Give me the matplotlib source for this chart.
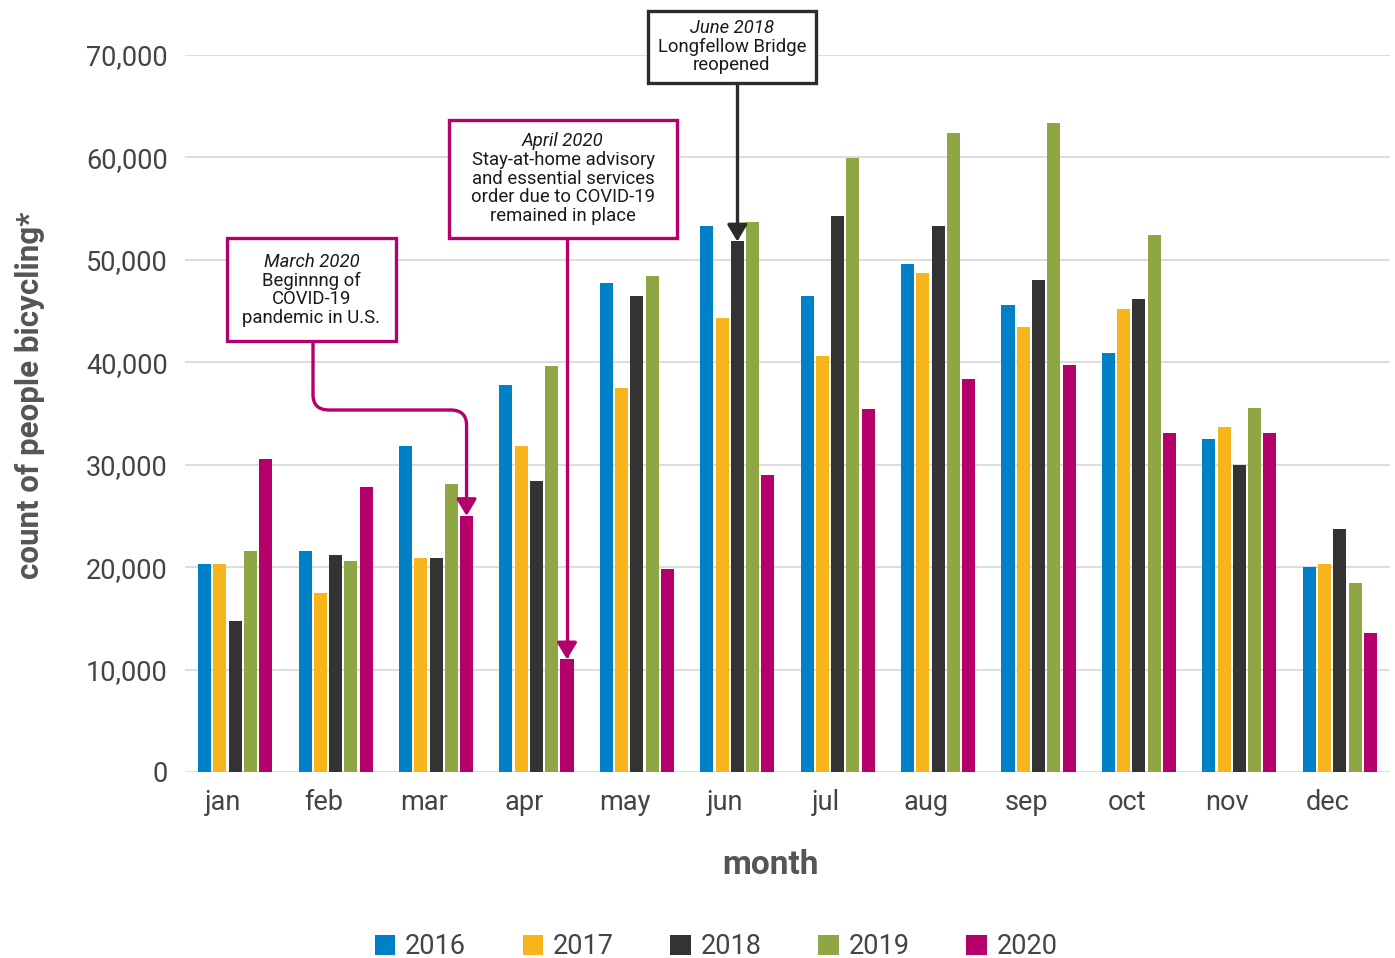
import matplotlib
matplotlib.use("Agg")
import matplotlib.pyplot as plt
import numpy as np
from matplotlib.patches import Rectangle, FancyArrowPatch
from matplotlib.path import Path
import matplotlib.transforms as mtransforms

months = ["jan", "feb", "mar", "apr", "may", "jun", "jul", "aug", "sep", "oct", "nov", "dec"]
years = ["2016", "2017", "2018", "2019", "2020"]
v2016 = [20300, 21550, 31800, 37750, 47750, 53300, 46450, 49600, 45550, 40900, 32500, 20000]
v2017 = [20300, 17450, 20900, 31800, 37450, 44300, 40600, 48700, 43400, 45200, 33700, 20300]
v2018 = [14750, 21200, 20900, 28400, 46450, 51800, 54300, 53300, 48000, 46150, 29950, 23700]
v2019 = [21550, 20600, 28100, 39650, 48400, 53700, 59950, 62400, 63350, 52400, 35550, 18450]
v2020 = [30550, 27800, 25000, 11000, 19800, 29000, 35450, 38350, 39750, 33100, 33100, 13550]
colors = ["#0080C6", "#F7B51B", "#333333", "#8FA644", "#B5006B"]
series = [v2016, v2017, v2018, v2019, v2020]
yticks = [0, 10000, 20000, 30000, 40000, 50000, 60000, 70000]

FONT = "Roboto"
plt.rcParams["font.family"] = [FONT, "DejaVu Sans"]

W, H = 1395, 958
fig = plt.figure(figsize=(W / 100, H / 100), dpi=100)
ax = fig.add_axes([185 / W, 1 - 772 / H, 1205 / W, 717 / H])

x = np.arange(len(months))
stride = 0.152
width = 0.13
for k, (vals, c, yr) in enumerate(zip(series, colors, years)):
    ax.bar(x + (k - 2) * stride, vals, width=width, color=c, label=yr, zorder=3)

ax.set_xlim(-0.5, 11.5)
ax.set_ylim(0, 70000)
ax.set_yticks(yticks)
ax.set_yticklabels([f"{v:,}" for v in yticks])
ax.set_xticks(x)
ax.set_xticklabels(months)
ax.grid(axis="y", color="#dddddd", lw=1.4, zorder=0)
for s in ax.spines.values():
    s.set_visible(False)
ax.tick_params(axis="both", length=0, labelsize=19.5, labelcolor="#444444")
ax.tick_params(axis="y", pad=12.5)
ax.tick_params(axis="x", pad=12)
off = mtransforms.ScaledTranslation(-12 / 100, 0, fig.dpi_scale_trans)
for lab in ax.get_xticklabels():
    lab.set_transform(lab.get_transform() + off)

fig.text(30 / W, 1 - 395 / H, "count of people bicycling*", rotation=90,
         ha="center", va="center", fontsize=22.5, fontweight="bold", color="#555555")
fig.text(770 / W, 1 - 865 / H, "month", ha="center", va="center",
         fontsize=24, fontweight="bold", color="#555555")

# annotations
def px2x(px):
    return (px - 185) / 1205 * 12 - 0.5

def py2y(py):
    return (772 - py) / 717 * 70000

def box(x0, x1, y0, y1, color, lines):
    r = Rectangle((px2x(x0), py2y(y1)), px2x(x1) - px2x(x0), py2y(y0) - py2y(y1),
                  fill=True, facecolor="white", edgecolor=color, lw=2.4,
                  clip_on=False, zorder=6)
    ax.add_patch(r)
    cx = px2x((x0 + x1) / 2)
    for j, (txt, py) in enumerate(lines):
        ax.text(cx, py2y(py), txt, ha="center", va="center", fontsize=13.3,
                color="#1a1a1a", style="italic" if j == 0 else "normal",
                zorder=7, clip_on=False)

MAG = "#B5006B"
DARK = "#2b2b2b"

# March 2020 arrow (with rounded corners)
xa = 2 + 2 * stride
xs = px2x(313)
yh = py2y(410)
rx, ry = 0.16, 1500
path = Path([(xs, py2y(341)), (xs, yh + ry), (xs, yh), (xs + rx, yh),
             (xa - rx, yh), (xa, yh), (xa, yh - ry), (xa, v2020[2])],
            [Path.MOVETO, Path.LINETO, Path.CURVE3, Path.CURVE3,
             Path.LINETO, Path.CURVE3, Path.CURVE3, Path.LINETO])
ax.add_patch(FancyArrowPatch(path=path, arrowstyle="-|>,head_length=0.5,head_width=0.3",
                             mutation_scale=20, color=MAG, lw=2.4, zorder=5, clip_on=False))
box(227, 396, 238, 341, MAG, [("March 2020", 262), ("Beginnng of", 281),
                               ("COVID-19", 299), ("pandemic in U.S.", 318)])

# April 2020 arrow
xa = 3 + 2 * stride
ax.add_patch(FancyArrowPatch(path=Path([(xa, py2y(238)), (xa, v2020[3])]),
                             arrowstyle="-|>,head_length=0.5,head_width=0.3",
                             mutation_scale=20, color=MAG, lw=2.4, zorder=5, clip_on=False))
box(449, 677, 120, 238, MAG, [("April 2020", 141), ("Stay-at-home advisory", 160),
                               ("and essential services", 179),
                               ("order due to COVID-19", 197), ("remained in place", 216)])

# June 2018 arrow
xa = 5 + 0 * stride
ax.add_patch(FancyArrowPatch(path=Path([(xa, py2y(83)), (xa, v2018[5])]),
                             arrowstyle="-|>,head_length=0.5,head_width=0.3",
                             mutation_scale=20, color=DARK, lw=2.4, zorder=5, clip_on=False))
box(648, 816, 11, 83, DARK, [("June 2018", 28), ("Longfellow Bridge", 47), ("reopened", 65)])

leg = fig.legend(loc="center", bbox_to_anchor=(716 / W, 1 - 947 / H), ncol=5,
                 frameon=False, fontsize=19.5, handlelength=0.76, handleheight=0.76,
                 handletextpad=0.35, columnspacing=2.1, labelcolor="#444444")

fig.savefig("out.png", dpi=100)
